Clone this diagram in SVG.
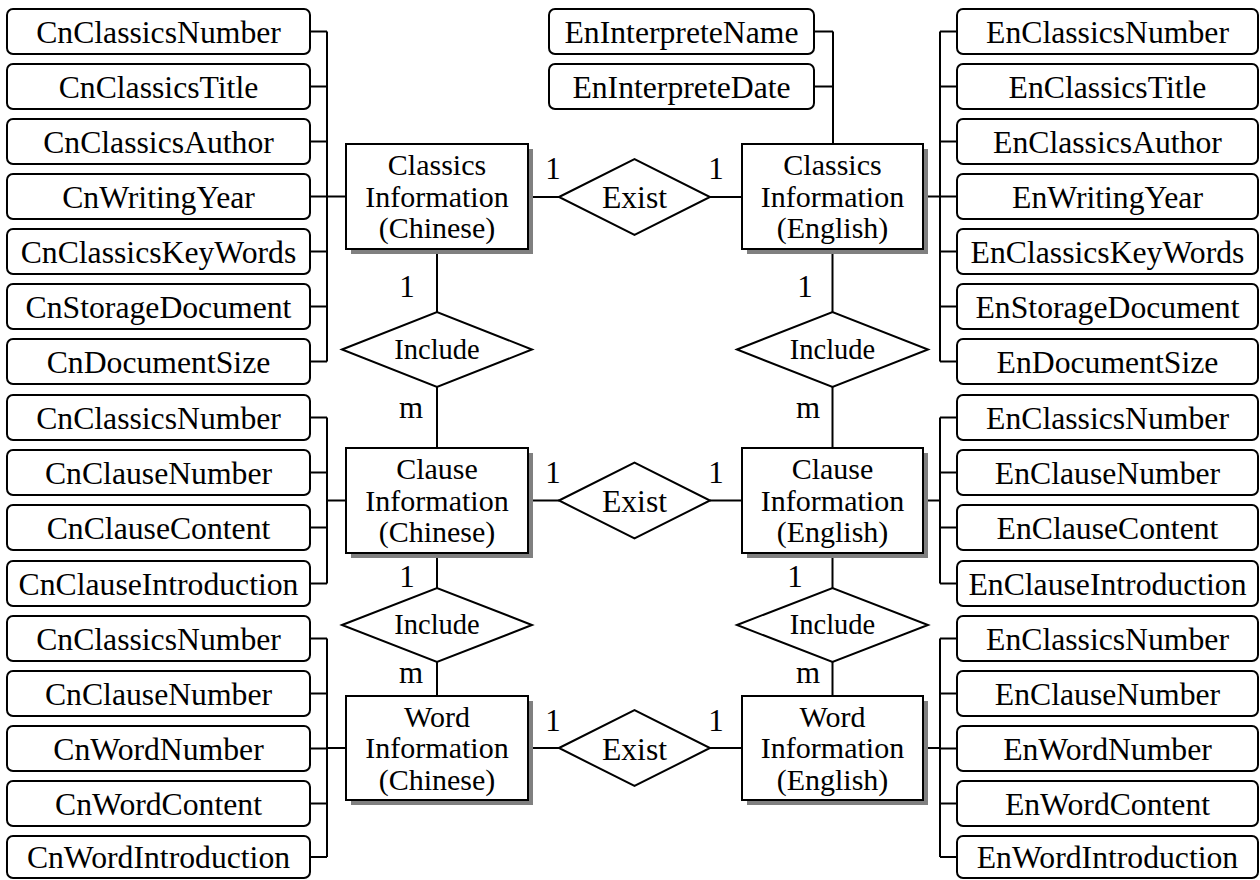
<svg xmlns="http://www.w3.org/2000/svg" width="1260" height="880" viewBox="0 0 1260 880">
<style>
.attr rect{fill:#fff;stroke:#000;stroke-width:2}
.attr text{font-family:"Liberation Serif","Times New Roman",serif;font-size:31.7px;text-anchor:middle;fill:#000}
.ent .sh{fill:#808080}
.ent .bx{fill:#fff;stroke:#000;stroke-width:2}
.ent text{font-family:"Liberation Serif","Times New Roman",serif;font-size:30px;text-anchor:middle;fill:#000}
.rel polygon{fill:#fff;stroke:#000;stroke-width:2}
.rel text{font-family:"Liberation Serif","Times New Roman",serif;text-anchor:middle;fill:#000}
.rel text.card{font-size:31px}
#connectors path{fill:none;stroke:#000;stroke-width:2}
</style>
<rect x="0" y="0" width="1260" height="880" fill="#fff"/>

<g id="connectors">
<path d="M310 31.5H327M310 86.5H327M310 141.5H327M310 196.5H327M310 251.5H327M310 306.5H327M310 361.5H327M327 31.5V361.5M327 196.5H346"/>
<path d="M310 417.5H327M310 472.5H327M310 527.5H327M310 583.5H327M327 417.5V583.5M327 500.5H346"/>
<path d="M310 638.5H327M310 693.5H327M310 748.5H327M310 803.5H327M310 857H327M327 638.5V857M327 748H346"/>
<path d="M957 31.5H940M957 86.5H940M957 141.5H940M957 196.5H940M957 251.5H940M957 306.5H940M957 361.5H940M940 31.5V361.5M923 196.5H940"/>
<path d="M814 31.5H833M814 86.5H833M833 31.5V144"/>
<path d="M957 417.5H940M957 472.5H940M957 527.5H940M957 583.5H940M940 417.5V583.5M923 500.5H940"/>
<path d="M957 638.5H940M957 693.5H940M957 748.5H940M957 803.5H940M957 857H940M940 638.5V857M923 748H940"/>
<path d="M528 197H559M710 197H742"/>
<path d="M528 500.5H559M710 500.5H742"/>
<path d="M528 748H559M710 748H742"/>
<path d="M437 249V312M437 387V448M437 553V588M437 662V696"/>
<path d="M832.5 249V312M832.5 387V448M832.5 553V588M832.5 662V696"/>
</g>

<g id="attr-cn-classics" class="attr">
<rect x="7" y="9" width="303" height="45" rx="6"/><text x="158.5" y="42.5">CnClassicsNumber</text>
<rect x="7" y="64" width="303" height="45" rx="6"/><text x="158.5" y="97.5">CnClassicsTitle</text>
<rect x="7" y="119" width="303" height="45" rx="6"/><text x="158.5" y="152.5">CnClassicsAuthor</text>
<rect x="7" y="174" width="303" height="45" rx="6"/><text x="158.5" y="207.5">CnWritingYear</text>
<rect x="7" y="229" width="303" height="45" rx="6"/><text x="158.5" y="262.5">CnClassicsKeyWords</text>
<rect x="7" y="284" width="303" height="45" rx="6"/><text x="158.5" y="317.5">CnStorageDocument</text>
<rect x="7" y="339" width="303" height="45" rx="6"/><text x="158.5" y="372.5">CnDocumentSize</text>
</g>
<g id="attr-cn-clause" class="attr">
<rect x="7" y="395" width="303" height="45" rx="6"/><text x="158.5" y="428.5">CnClassicsNumber</text>
<rect x="7" y="450" width="303" height="45" rx="6"/><text x="158.5" y="483.5">CnClauseNumber</text>
<rect x="7" y="505" width="303" height="45" rx="6"/><text x="158.5" y="538.5">CnClauseContent</text>
<rect x="7" y="561" width="303" height="45" rx="6"/><text x="158.5" y="594.5">CnClauseIntroduction</text>
</g>
<g id="attr-cn-word" class="attr">
<rect x="7" y="616" width="303" height="45" rx="6"/><text x="158.5" y="649.5">CnClassicsNumber</text>
<rect x="7" y="671" width="303" height="45" rx="6"/><text x="158.5" y="704.5">CnClauseNumber</text>
<rect x="7" y="726" width="303" height="45" rx="6"/><text x="158.5" y="759.5">CnWordNumber</text>
<rect x="7" y="781" width="303" height="45" rx="6"/><text x="158.5" y="814.5">CnWordContent</text>
<rect x="7" y="836" width="303" height="42" rx="6"/><text x="158.5" y="868">CnWordIntroduction</text>
</g>

<g id="attr-en-interprete" class="attr">
<rect x="549" y="9" width="265" height="45" rx="6"/><text x="681.5" y="42.5">EnInterpreteName</text>
<rect x="549" y="64" width="265" height="45" rx="6"/><text x="681.5" y="97.5">EnInterpreteDate</text>
</g>

<g id="attr-en-classics" class="attr">
<rect x="957" y="9" width="301" height="45" rx="6"/><text x="1107.5" y="42.5">EnClassicsNumber</text>
<rect x="957" y="64" width="301" height="45" rx="6"/><text x="1107.5" y="97.5">EnClassicsTitle</text>
<rect x="957" y="119" width="301" height="45" rx="6"/><text x="1107.5" y="152.5">EnClassicsAuthor</text>
<rect x="957" y="174" width="301" height="45" rx="6"/><text x="1107.5" y="207.5">EnWritingYear</text>
<rect x="957" y="229" width="301" height="45" rx="6"/><text x="1107.5" y="262.5">EnClassicsKeyWords</text>
<rect x="957" y="284" width="301" height="45" rx="6"/><text x="1107.5" y="317.5">EnStorageDocument</text>
<rect x="957" y="339" width="301" height="45" rx="6"/><text x="1107.5" y="372.5">EnDocumentSize</text>
</g>
<g id="attr-en-clause" class="attr">
<rect x="957" y="395" width="301" height="45" rx="6"/><text x="1107.5" y="428.5">EnClassicsNumber</text>
<rect x="957" y="450" width="301" height="45" rx="6"/><text x="1107.5" y="483.5">EnClauseNumber</text>
<rect x="957" y="505" width="301" height="45" rx="6"/><text x="1107.5" y="538.5">EnClauseContent</text>
<rect x="957" y="561" width="301" height="45" rx="6"/><text x="1107.5" y="594.5">EnClauseIntroduction</text>
</g>
<g id="attr-en-word" class="attr">
<rect x="957" y="616" width="301" height="45" rx="6"/><text x="1107.5" y="649.5">EnClassicsNumber</text>
<rect x="957" y="671" width="301" height="45" rx="6"/><text x="1107.5" y="704.5">EnClauseNumber</text>
<rect x="957" y="726" width="301" height="45" rx="6"/><text x="1107.5" y="759.5">EnWordNumber</text>
<rect x="957" y="781" width="301" height="45" rx="6"/><text x="1107.5" y="814.5">EnWordContent</text>
<rect x="957" y="836" width="301" height="42" rx="6"/><text x="1107.5" y="868">EnWordIntroduction</text>
</g>

<g id="ent-classics-cn" class="ent">
<rect class="sh" x="351" y="149" width="182" height="105"/>
<rect class="bx" x="346" y="144" width="182" height="105"/>
<text x="437" y="175">Classics<tspan x="437" dy="31.5">Information</tspan><tspan x="437" dy="31.5">(Chinese)</tspan></text>
</g>
<g id="ent-classics-en" class="ent">
<rect class="sh" x="747" y="149" width="181" height="105"/>
<rect class="bx" x="742" y="144" width="181" height="105"/>
<text x="832.5" y="175">Classics<tspan x="832.5" dy="31.5">Information</tspan><tspan x="832.5" dy="31.5">(English)</tspan></text>
</g>
<g id="ent-clause-cn" class="ent">
<rect class="sh" x="351" y="453" width="182" height="105"/>
<rect class="bx" x="346" y="448" width="182" height="105"/>
<text x="437" y="479">Clause<tspan x="437" dy="31.5">Information</tspan><tspan x="437" dy="31.5">(Chinese)</tspan></text>
</g>
<g id="ent-clause-en" class="ent">
<rect class="sh" x="747" y="453" width="181" height="105"/>
<rect class="bx" x="742" y="448" width="181" height="105"/>
<text x="832.5" y="479">Clause<tspan x="832.5" dy="31.5">Information</tspan><tspan x="832.5" dy="31.5">(English)</tspan></text>
</g>
<g id="ent-word-cn" class="ent">
<rect class="sh" x="351" y="701" width="182" height="104"/>
<rect class="bx" x="346" y="696" width="182" height="104"/>
<text x="437" y="726.5">Word<tspan x="437" dy="31.5">Information</tspan><tspan x="437" dy="31.5">(Chinese)</tspan></text>
</g>
<g id="ent-word-en" class="ent">
<rect class="sh" x="747" y="701" width="181" height="104"/>
<rect class="bx" x="742" y="696" width="181" height="104"/>
<text x="832.5" y="726.5">Word<tspan x="832.5" dy="31.5">Information</tspan><tspan x="832.5" dy="31.5">(English)</tspan></text>
</g>

<g id="rel-exist-classics" class="rel">
<polygon points="559,197 634.5,159 710,197 634.5,235"/>
<text x="634.5" y="208" font-size="31.7">Exist</text>
<text class="card" x="553" y="179">1</text><text class="card" x="716" y="179">1</text>
</g>
<g id="rel-exist-clause" class="rel">
<polygon points="559,500.5 634.5,462.5 710,500.5 634.5,538.5"/>
<text x="634.5" y="512" font-size="31.7">Exist</text>
<text class="card" x="553" y="483">1</text><text class="card" x="716" y="483">1</text>
</g>
<g id="rel-exist-word" class="rel">
<polygon points="559,748 634.5,710 710,748 634.5,786"/>
<text x="634.5" y="759.5" font-size="31.7">Exist</text>
<text class="card" x="553" y="731">1</text><text class="card" x="716" y="731">1</text>
</g>
<g id="rel-include-cn-1" class="rel">
<polygon points="342,349.5 437,312 532,349.5 437,387"/>
<text x="437" y="358.5" font-size="28.5">Include</text>
<text class="card" x="407" y="297">1</text><text class="card" x="411" y="418">m</text>
</g>
<g id="rel-include-cn-2" class="rel">
<polygon points="342,625 437,588 532,625 437,662"/>
<text x="437" y="634" font-size="28.5">Include</text>
<text class="card" x="407" y="587">1</text><text class="card" x="411" y="683">m</text>
</g>
<g id="rel-include-en-1" class="rel">
<polygon points="737,349.5 832.5,312 928,349.5 832.5,387"/>
<text x="832.5" y="358.5" font-size="28.5">Include</text>
<text class="card" x="805" y="297">1</text><text class="card" x="808" y="418">m</text>
</g>
<g id="rel-include-en-2" class="rel">
<polygon points="737,625 832.5,588 928,625 832.5,662"/>
<text x="832.5" y="634" font-size="28.5">Include</text>
<text class="card" x="795" y="587">1</text><text class="card" x="808" y="683">m</text>
</g>
</svg>
